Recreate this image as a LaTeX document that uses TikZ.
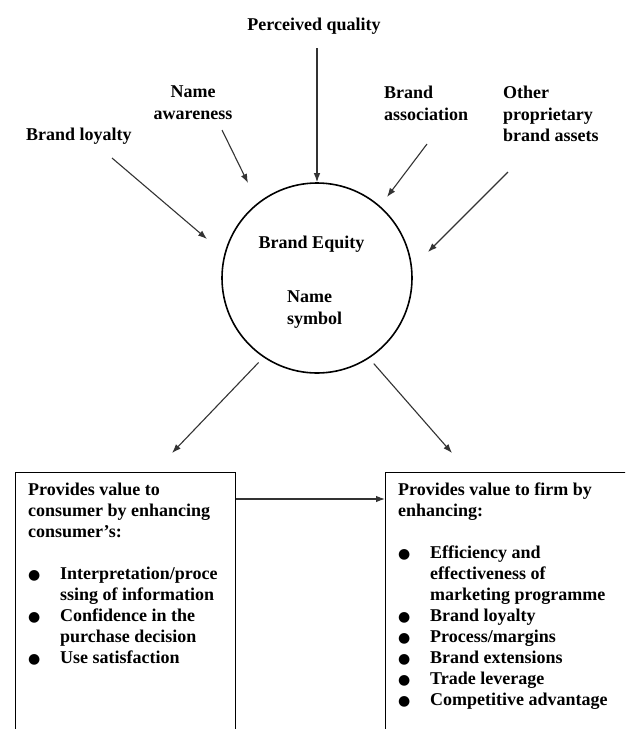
\documentclass[tikz,border=0pt]{standalone}
\usepackage{fontspec}
\setmainfont{Liberation Serif}
\newfontfamily\dotfont{DejaVu Sans}
\usetikzlibrary{arrows.meta,positioning}

\newcommand{\dotitem}{\makebox[32pt][l]{\dotfont\fontsize{14}{14}\selectfont ●}}
\newcommand{\hangin}{\hspace*{32pt}}

\begin{document}
\begin{tikzpicture}[x=1pt, y=-1pt, >={Latex[length=9pt,width=6.5pt]},
    tagtext/.style={font=\bfseries\fontsize{18}{21.5}\selectfont, inner sep=0pt, align=left},
    listtext/.style={font=\bfseries\fontsize{18}{21}\selectfont, inner sep=0pt, align=left, anchor=north west},
    panel/.style={draw, line width=1.4pt, anchor=north west, inner sep=0pt},
    feed/.style={draw=black!80, ->, line width=1.1pt}]

    \path[use as bounding box, fill=white] (0,0) rectangle (625,729);
    \clip (0,0) rectangle (625,729);

    % the asset labels round the top
    \node [tagtext, anchor=base] (pq) at (314,30) {Perceived quality};
    \node [tagtext, align=center, anchor=north] (na) at (193,86) {Name\\awareness};
    \node [tagtext, anchor=base west] (bl) at (26,140) {Brand loyalty};
    \node [tagtext, anchor=north west] (ba) at (384,86) {Brand\\association};
    \node [tagtext, anchor=north west] (op) at (503,86) {Other\\proprietary\\brand assets};

    % brand equity circle
    \node [circle, draw, line width=1.6pt, minimum size=190pt, inner sep=0pt] (equity) at (317,278) {};
    \node [tagtext, anchor=base] (equity-title) at (311.5,248) {Brand Equity};
    \node [tagtext, anchor=north west] (equity-sub) at (287,291) {Name\\symbol};

    % the two value boxes
    \node [panel, minimum width=220pt, minimum height=300pt] (consumer) at (15,472) {};
    \node [panel, minimum width=260pt, minimum height=300pt] (firm) at (385,472) {};

    \node [listtext] (consumer-list) at (28,482.7) {Provides value to\\
        consumer by enhancing\\
        consumer's:\\
        \mbox{}\\
        \dotitem Interpretation/proce\\
        \hangin ssing of information\\
        \dotitem Confidence in the\\
        \hangin purchase decision\\
        \dotitem Use satisfaction};
    \node [listtext] (firm-list) at (398,482.7) {Provides value to firm by\\
        enhancing:\\
        \mbox{}\\
        \dotitem Efficiency and\\
        \hangin effectiveness of\\
        \hangin marketing programme\\
        \dotitem Brand loyalty\\
        \dotitem Process/margins\\
        \dotitem Brand extensions\\
        \dotitem Trade leverage\\
        \dotitem Competitive advantage};

    % free ends of the arrows
    \coordinate (pq-tail) at (317,48);
    \coordinate (na-tail) at (222,130);
    \coordinate (na-tip) at (248,183);
    \coordinate (bl-tail) at (112,158);
    \coordinate (bl-tip) at (207,239);
    \coordinate (ba-tail) at (427,144);
    \coordinate (ba-tip) at (387,197);
    \coordinate (op-tail) at (508,172);
    \coordinate (op-tip) at (428,252);
    \coordinate (consumer-tip) at (172,453);
    \coordinate (firm-tip) at (452,453);

    \path [feed] (pq-tail) -- (equity.north);
    \path [feed] (na-tail) -- (na-tip);
    \path [feed] (bl-tail) -- (bl-tip);
    \path [feed] (ba-tail) -- (ba-tip);
    \path [feed] (op-tail) -- (op-tip);

    \path [feed, shorten <=7pt] (equity.236.5) -- (consumer-tip);
    \path [feed, shorten <=7pt] (equity.303.5) -- (firm-tip);
    \path [feed] ([yshift=-27pt]consumer.north east) -- ([yshift=-27pt]firm.north west);

\end{tikzpicture}
\end{document}
